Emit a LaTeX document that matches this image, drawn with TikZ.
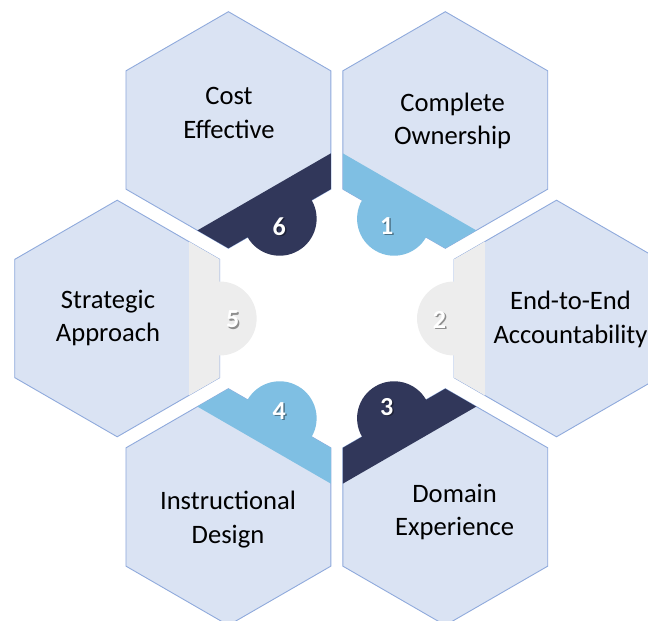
\documentclass[tikz,border=0pt]{standalone}
\usepackage{fontspec}
\setmainfont{Carlito}
\definecolor{hexfill}{HTML}{DAE3F3}
\definecolor{hexline}{HTML}{8FAADC}
\definecolor{navy}{HTML}{31375A}
\definecolor{sky}{HTML}{7FBFE3}
\definecolor{pale}{HTML}{EDEDED}
\begin{document}
\begin{tikzpicture}[x=1pt,y=1pt,
  hexbody/.style={fill=hexfill,draw=hexline,line width=0.9pt},
  lbl/.style={font=\fontsize{26.6}{33}\selectfont,text=black,anchor=base,inner sep=0pt},
  numtxt/.style={font=\fontsize{26}{30}\selectfont\bfseries,text=white,inner sep=0pt},
  numshadow/.style={font=\fontsize{26}{30}\selectfont\bfseries,text=black,opacity=0.4,inner sep=0pt}]
\useasboundingbox (0,0) rectangle (648,621);
\clip (0,0) rectangle (648,621);
\def\R{118.3}
\def\A{102.45}
\def\T{31}
\foreach \cx/\cy/\rot/\col in {228.4/491/300/navy, 445.3/491/240/sky, 556.5/302.5/180/pale, 445.3/114/120/navy, 228.4/114/60/sky, 117.2/302.5/0/pale}{
  \begin{scope}[shift={(\cx,\cy)},rotate=\rot]
    \path[hexbody] (30:\R) -- (90:\R) -- (150:\R) -- (210:\R) -- (270:\R) -- (330:\R) -- cycle;
    \begin{scope}
      \clip (30:\R) -- (90:\R) -- (150:\R) -- (210:\R) -- (270:\R) -- (330:\R) -- cycle;
      \fill[\col] (\A-\T,-\R) rectangle (\A+2,\R);
    \end{scope}
    \begin{scope}
      \clip (\A-0.9,-50) rectangle (\A+50,50);
      \fill[\col] (\A,0) circle (37pt);
    \end{scope}
  \end{scope}
}
% labels
\node[lbl] (t6a) at (229,516) {Cost};
\node[lbl] (t6b) at (229,482.7) {Effective};
\node[lbl] (t1a) at (452.6,509.3) {Complete};
\node[lbl] (t1b) at (452.6,476) {Ownership};
\node[lbl] (t2a) at (570.5,311) {End-to-End};
\node[lbl] (t2b) at (570.5,277.7) {Accountability};
\node[lbl] (t3a) at (454.6,118.7) {Domain};
\node[lbl] (t3b) at (454.6,85.3) {Experience};
\node[lbl] (t4a) at (228,111) {Instructional};
\node[lbl] (t4b) at (228,77.7) {Design};
\node[lbl] (t5a) at (108,312.7) {Strategic};
\node[lbl] (t5b) at (108,279.3) {Approach};
% numbers
\foreach \nx/\ny/\n in {279.3/394.3/6, 386.7/395/1, 439.5/301.5/2, 386.7/214.3/3, 279.3/210/4, 232.7/301.7/5}{
  \node[numshadow] (s\n) at (\nx+1.4,\ny-1.4) {\n};
  \node[numtxt] (n\n) at (\nx,\ny) {\n};
}
\end{tikzpicture}
\end{document}
